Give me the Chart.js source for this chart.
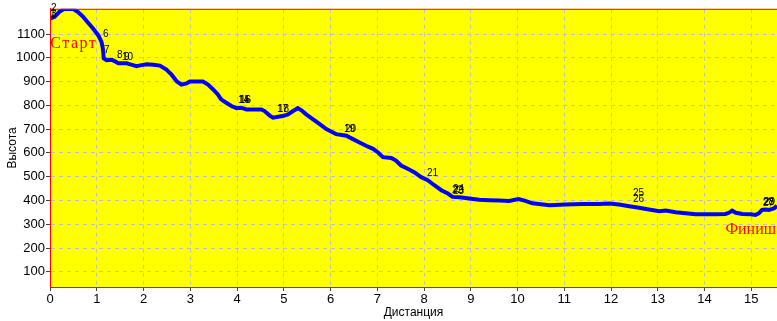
<!DOCTYPE html>
<html>
<head>
<meta charset="utf-8">
<script src="https://cdn.jsdelivr.net/npm/chart.js@4.4.1/dist/chart.umd.min.js"></script>
<style>
  html, body { margin: 0; padding: 0; background: #fff; }
  #profileChart { display: block; }
</style>
</head>
<body>
<canvas id="profileChart" width="777" height="321"></canvas>
<script>
// --- track data: distance (km) and elevation (m) ---
const distKm = [0.00, 0.10, 0.21, 0.30, 0.50, 0.60, 0.71, 0.82, 0.92, 1.03, 1.10, 1.13, 1.15, 1.21, 1.32, 1.39, 1.46, 1.64, 1.74, 1.85,
  1.96, 2.07, 2.21, 2.35, 2.49, 2.60, 2.71, 2.81, 2.92, 2.99, 3.27, 3.38, 3.49, 3.59, 3.66, 3.77, 3.88, 3.99, 4.09, 4.20,
  4.34, 4.52, 4.59, 4.70, 4.77, 4.88, 4.98, 5.09, 5.20, 5.30, 5.38, 5.48, 5.62, 5.77, 5.91, 5.98, 6.12, 6.34, 6.48, 6.62,
  6.76, 6.91, 7.01, 7.12, 7.30, 7.40, 7.51, 7.65, 7.79, 7.94, 8.08, 8.22, 8.37, 8.51, 8.61, 8.76, 8.97, 9.18, 9.40, 9.61,
  9.82, 10.02, 10.15, 10.32, 10.68, 11.03, 11.39, 11.75, 11.96, 12.17, 12.39, 12.60, 12.81, 13.03, 13.17, 13.38, 13.60, 13.81, 14.02, 14.24,
  14.45, 14.52, 14.59, 14.67, 14.81, 14.99, 15.09, 15.16, 15.23, 15.30, 15.38, 15.49, 15.55];
const elevM = [1165, 1172, 1195, 1205, 1205, 1192, 1172, 1146, 1123, 1095, 1068, 1040, 998, 990, 992, 985, 977, 977, 971, 965,
  969, 973, 971, 967, 950, 929, 901, 887, 892, 900, 900, 887, 867, 846, 825, 811, 797, 788, 790, 783,
  783, 783, 776, 757, 748, 752, 755, 762, 776, 788, 779, 762, 742, 721, 700, 693, 679, 672, 658, 644,
  630, 617, 603, 582, 579, 568, 547, 533, 519, 498, 485, 464, 443, 429, 415, 413, 408, 403, 401, 400,
  398, 406, 399, 388, 380, 383, 385, 385, 387, 383, 376, 369, 362, 355, 358, 350, 346, 342, 342, 342,
  343, 348, 357, 348, 343, 342, 339, 346, 360, 362, 360, 367, 378];

// waypoint numbers and where their labels sit (km, m)
const wpNames = ['1', '2', '3', '6', '7', '8', '10', '9', '14', '15', '16', '17', '18', '19', '20', '21', '22', '23', '24', '26', '25', '27', '28', '29'];
const wpKm    = [0.01, 0.02, 0.03, 1.126, 1.163, 1.426, 1.54, 1.59, 4.02, 4.04, 4.06, 4.85, 4.87, 6.28, 6.30, 8.07, 8.60, 8.61, 8.62, 12.47, 12.46, 15.25, 15.26, 15.27];
const wpElev  = [1173, 1198, 1170, 1088, 1020, 1000, 989, 989, 809, 809, 809, 771, 771, 688, 688, 504, 430, 428, 435, 394, 417, 378, 379, 380];

// start / finish captions (km, m)
const capText = ['Старт', 'Финиш'];
const capKm   = [0.006, 15.53];
const capElev = [1042, 261];

const xTicks = [0, 1, 2, 3, 4, 5, 6, 7, 8, 9, 10, 11, 12, 13, 14, 15];
const yTicks = [100, 200, 300, 400, 500, 600, 700, 800, 900, 1000, 1100];

const sansFont = "'Liberation Sans', Arial, sans-serif";

// yellow plot area + red frame
const framePlugin = {
  id: 'frame',
  beforeDraw(chart) {
    const { ctx, chartArea: a } = chart;
    ctx.save();
    ctx.fillStyle = '#ffff00';
    ctx.fillRect(a.left, a.top, a.right - a.left, a.bottom - a.top);
    ctx.restore();
  },
  afterDatasetsDraw(chart) {
    const { ctx, chartArea: a } = chart;
    ctx.save();
    ctx.strokeStyle = '#ff0000';
    ctx.lineWidth = 1;
    ctx.beginPath();
    ctx.moveTo(a.right, a.top + 0.5);
    ctx.lineTo(a.left + 0.5, a.top + 0.5);
    ctx.lineTo(a.left + 0.5, a.bottom + 0.5);
    ctx.lineTo(a.right, a.bottom + 0.5);
    ctx.stroke();
    ctx.restore();
  }
};

// waypoint numbers and start/finish text
const labelPlugin = {
  id: 'wpLabels',
  afterDatasetsDraw(chart) {
    const { ctx, scales: { x, y } } = chart;
    ctx.save();
    ctx.fillStyle = '#000';
    ctx.font = '10px ' + sansFont;
    ctx.textAlign = 'left';
    ctx.textBaseline = 'alphabetic';
    wpNames.forEach((name, i) => {
      ctx.fillText(name, Math.round(x.getPixelForValue(wpKm[i])), Math.round(y.getPixelForValue(wpElev[i])));
    });
    ctx.fillStyle = '#ff0000';
    ctx.font = "16px 'Liberation Serif', 'Times New Roman', serif";
    ctx.letterSpacing = '1.5px';
    ctx.textAlign = 'left';
    ctx.fillText(capText[0], x.getPixelForValue(capKm[0]), y.getPixelForValue(capElev[0]));
    ctx.letterSpacing = '0px';
    ctx.textAlign = 'right';
    ctx.fillText(capText[1], x.getPixelForValue(capKm[1]), y.getPixelForValue(capElev[1]));
    ctx.restore();
  }
};

new Chart(document.getElementById('profileChart').getContext('2d'), {
  type: 'line',
  data: {
    datasets: [{
      data: distKm.map((d, i) => ({ x: d, y: elevM[i] })),
      borderColor: '#0000ff',
      borderWidth: 4,
      borderJoinStyle: 'miter',
      pointRadius: 0,
      tension: 0,
      fill: false
    }]
  },
  options: {
    responsive: false,
    animation: false,
    layout: { padding: { top: 6, right: 0, left: 0, bottom: 0 } },
    plugins: {
      legend: { display: false },
      tooltip: { enabled: false }
    },
    scales: {
      x: {
        type: 'linear',
        min: 0,
        max: 15.55,
        afterBuildTicks: s => { s.ticks = xTicks.map(v => ({ value: v })); },
        afterFit: s => { s.height = 34; },
        ticks: { color: '#000', font: { family: sansFont, size: 13 }, padding: 1, maxRotation: 0, autoSkip: false, callback: v => String(v) },
        grid: { color: '#c0c0cc', lineWidth: 1, tickColor: '#444', tickLength: 4 },
        border: { color: '#ff0000', width: 1, dash: [4, 4] },
        title: { display: true, text: 'Дистанция', color: '#000', font: { family: sansFont, size: 12 }, padding: { top: 0, bottom: 1 } }
      },
      y: {
        min: 36,
        max: 1206,
        afterBuildTicks: s => { s.ticks = yTicks.map(v => ({ value: v })); },
        afterFit: s => { s.width = 50; },
        ticks: { color: '#000', font: { family: sansFont, size: 13 }, padding: 1, callback: v => String(v) },
        grid: { color: '#c0c0cc', lineWidth: 1, tickColor: '#444', tickLength: 4 },
        border: { color: '#ff0000', width: 1, dash: [4, 4] },
        title: { display: true, text: 'Высота', color: '#000', font: { family: sansFont, size: 12 }, padding: { top: 5, bottom: 0 } }
      }
    }
  },
  plugins: [framePlugin, labelPlugin]
});
</script>
</body>
</html>
